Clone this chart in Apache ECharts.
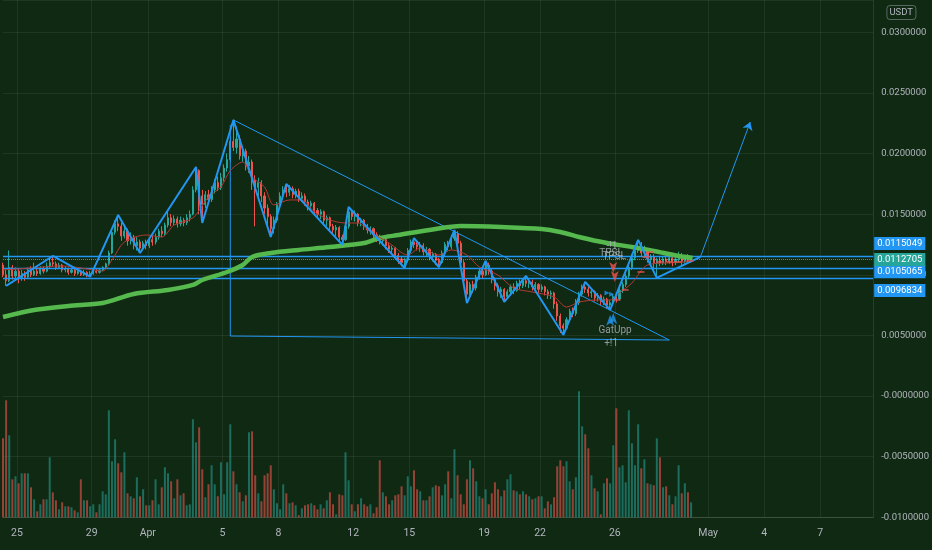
<!DOCTYPE html>
<html>
<head>
<meta charset="utf-8">
<title>DENTUSDT</title>
<script src="https://cdn.jsdelivr.net/npm/echarts/dist/echarts.min.js"></script>
<style>
html,body{margin:0;padding:0;background:#102913;}
#chart{width:932px;height:550px;}
</style>
</head>
<body>
<div id="chart"></div>
<script>
// ---- DATA (prices in units of 0.0001 USDT, time in days since Apr 1 00:00) ----
const tickDays   = [-7, -3, 0, 4, 7, 11, 14, 18, 21, 25, 30, 33, 36];
const tickLabels = ['25', '29', 'Apr', '5', '8', '12', '15', '19', '22', '26', 'May', '4', '7'];
const firstCandleDay = -7.75;      // Mar 24 06:00
const candleStep = 1 / 6;          // 4h candles

// [open, close, low, high]
const ohlc = [
[108,100,98,110],[100,95,90.8,104],[95,106,94,120],[106,99,96,108],[99,103,97,106],[103,97,93,105],[97,101,95,104],[101,98,95,103],[98,104,97,106],[104,100,98,107],
[100,103,99,110],[103,101,99,105],[101,105,100,107],[105,103,101,107],[103,107,102,110],[107,110,105,113],[110,109,107,115.5],[109,106,104,111],[106,108,105,110],[108,104,102,109],
[104,105,102,107],[105,102,100,106],[102,104,101,106],[104,101,99,105],[101,103,100,105],[103,100,99,104],[100,102,99,104],[102,99,98,103],[99,101,98.5,103],[101,103,100,104],
[103,102,101,105],[102,104,101,105],[104,106,103,107],[106,109,105,110],[109,118,108,120],[118,135,117,138],[135,142,133,145],[142,140,136,149.3],[140,132,128,143],[132,136,130,140],
[136,128,124,138],[128,131,125,135],[131,124,121,133],[124,127,120,131],[127,122,118,129],[122,126,120,128],[126,124,121,129],[124,129,122,131],[129,127,124,132],[127,131,125,134],
[131,136,129,138],[136,134,131,140],[134,141,132,143],[141,147,139,152],[147,143,140,150],[143,146,141,149],[146,142,139,148],[142,145,140,148],[145,143,140,147],[143,147,141,150],
[147,150,144,153],[150,170,149,173],[170,186,168,188.9],[186,165,150,187],[165,158,142.7,170],[158,166,155,169],[166,162,159,170],[162,170,160,173],[170,176,167,179],[176,172,169,181],
[172,180,170,184],[180,188,177,191],[188,195,185,200],[195,210,193,214],[210,205,202,227.7],[205,212,200,222],[212,198,195,215],[198,202,193,206],[202,190,186,204],[190,193,184,198],
[193,178,170,195],[178,172,140,182],[172,176,165,180],[176,165,160,178],[165,155,150,168],[155,148,140,158],[148,138,131.2,150],[138,145,134,148],[145,158,143,160],[158,165,154,168],
[165,170,162,173],[170,168,164,174.9],[168,171,165,174],[171,166,163,173],[166,169,163,171],[169,163,160,171],[163,165,160,168],[165,160,157,167],[160,157,153,162],[157,159,154,161],
[159,153,150,160],[153,150,147,155],[150,152,146,154],[152,145,141,153],[145,147,140,149],[147,140,136,148],[140,137,133,142],[137,139,132,141],[139,131,127,140],[131,129,124.6,133],
[129,140,128,142],[140,152,138,155.9],[152,148,145,154],[148,150,144,153],[150,143,140,151],[143,145,140,147],[145,140,137,146],[140,137,134,142],[137,138,133,140],[138,133,130,139],
[133,131,127,135],[131,128,125,133],[128,129,124,131],[129,124,121,130],[124,121,118,126],[121,122,117,124],[122,116,113,123],[116,113,109,118],[113,110,107,115],[110,112,105.6,114],
[112,120,110,122],[120,127,118,129],[127,125,122,130.3],[125,123,120,128],[123,124,119,127],[124,119,116,126],[119,121,115,123],[121,115,112,122],[115,117,111,119],[117,112,108,118],
[112,110,106.4,114],[110,118,109,120],[118,125,116,127],[125,123,120,128],[123,130,121,133],[130,134,128,136.9],[134,126,123,136],[126,110,105,128],[110,95,90,112],[95,84,76.7,97],
[84,92,80,94],[92,89,85,95],[89,98,87,100],[98,103,96,105],[103,100,97,106],[100,108,99,111.4],[108,103,100,110],[103,96,93,105],[96,91,87,98],[91,86,82,93],
[86,88,81,90],[88,82,77.6,89],[82,86,80,88],[86,90,84,92],[90,87,84,93],[87,93,86,95],[93,91,88,96],[91,95,89,97],[95,93,90,99],[93,94,89,96],
[94,90,87,96],[90,92,88,94],[92,88,85,93],[88,90,86,92],[90,86,83,91],[86,84,80,88],[84,85,80,87],[85,76,72,86],[76,66,62,78],[66,58,52,68],
[58,56,50.4,60],[56,63,55,65],[63,70,61,72],[70,68,65,73],[68,77,66,80],[77,84,75,86],[84,90,82,92],[90,88,85,94.1],[88,85,82,90],[85,86,81,88],
[86,81,78,87],[81,83,78,85],[83,78,75,84],[78,80,75,82],[80,75,72,81],[75,77,71,79],[77,82,75,84],[82,80,77,85],[80,87,79,90],[87,92,85,94],
[92,99,90,101],[99,106,97,110],[106,114,104,117],[114,120,112,124],[120,123,118,128.7],[123,118,115,127],[118,120,114,124],[120,113,110,122],[113,115,108,117],[115,110,104,117],
[110,112,97.4,114],[112,110,107,115],[110,113,108,115],[113,111,108,116],[111,114,109,117],[114,110,107,116],[110,113,108,115],[113,115,110,119],[115,111,108,118],[111,114,109,116],
[114,112,109,117],[112,112.7,110,115]
];

// volume per candle (arbitrary units)
const volume = [
79,117,82,38,41,34,44,44,44,30, 18,6,13,18,18,60,25,17,8,15, 11,11,10,7,5,38,17,17,11,13,
5,13,26,23,107,56,78,54,45,65, 24,21,19,40,21,28,12,12,17,38, 13,30,50,44,36,19,38,22,24,12,
13,98,75,90,48,20,33,52,33,21, 55,23,55,93,46,33,25,16,22,85, 86,42,24,16,42,44,52,28,14,8,
33,24,14,15,12,2,9,12,13,14, 12,8,13,9,17,25,13,3,23,22, 65,37,13,6,13,19,13,11,13,4,
10,57,25,21,13,17,22,23,31,22, 41,31,47,28,26,17,17,21,30,32, 31,22,33,46,19,68,42,23,13,38,
57,49,36,21,19,28,13,24,35,28, 21,27,38,43,27,26,23,26,23,21, 18,19,21,21,9,16,13,20,51,57,
51,56,36,28,40,126,91,83,69,42, 29,26,3,34,39,34,72,109,50,52, 35,107,74,52,93,49,58,34,33,32,
79,60,30,31,22,13,21,52,24,34, 25,15
];

// slow moving average (thick green), read at candle indices
const maSlowIdx = [0,10,21,32,42,53,61,64,72,77,80,86,95,105,116,121,127,137,147,160,173,179,185,194,202,209,217,221.5];
const maSlowVal = [65.2,71,74.3,76.7,84.2,87.5,91.6,95.7,102.3,108.1,114.7,118,120.5,122.9,126.2,130.3,132.8,137,140.2,139.4,137.8,135.3,131.2,126.2,122.9,119.6,115.5,113.9];

// fast moving average (thin red)
const maFastIdx = [0,9,19,29,32,35,39,46,51,55,61,66,70,73,77,80,84,87,92,96,100,105,110,114,118,124,130,134,140,144,149,153,159,164,170,177,181,185,191,195,198,202,207,213,220];
const maFastVal = [104,105.6,107.3,104,103.1,112.2,127,132.8,131.2,141.1,146.9,164.1,172.4,186,193,180.6,172.4,157.6,161.7,161.7,151.8,145.2,142.7,142.7,135.3,126.2,116.3,122.1,116.3,120.5,116.3,106.4,99.8,89.1,85.8,81.7,73.4,77.5,79.2,79.2,85,93.2,108.1,109.7,110.6];

// zigzag pivots
const zigIdx = [1,16,28,37,44,62,64,74,86,91,109,111,129,132,140,145,149,155,161,168,180,187,195,204,210,224];
const zigVal = [90.8,115.5,98.5,149.3,118,188.9,142.7,227.7,131.2,174.9,124.6,155.9,105.6,130.3,106.4,136.9,76.7,111.4,77.6,99,50.4,94.1,71,128.7,97.4,114.7];
const projIdx = [224, 240];
const projVal = [114.7, 226];

// triangle drawing
const triUpper = [[74, 227.7], [214, 46.2]];
const triLower = [[73, 49.5], [214, 46.2]];
const triVert  = [[73, 223.6], [73, 49.5]];

// horizontal price levels
const levelVals   = [115.049, 105.065, 96.834];
const levelShift  = [-13, 3, 12];
const lastPrice = 112.705;

// annotations
const annoIdx  = [195.6, 196.3, 195.3, 196.6, 195.3];
const annoVal  = [123.6, 114.7, 117.5, 53.7, 43];
const annoText = ['-!1', 'TPSL', 'TPSL', 'GatUpp', '+!1'];
const downArrIdx = [196, 196.5];
const downArrVal = [101.5, 94];
const upArrIdx = [195, 196];
const upArrVal = [67, 68.5];
const sigIdx = [194, 195.5];
const sigVal = [85, 84];
const tpslIdx = [197.2, 199.8, 204.9, 206.5, 207.8, 211, 214.2, 216.7, 220.6];
const tpslVal = [79.2, 87.5, 102.3, 114.7, 118.8, 110.6, 110.6, 110.6, 111.4];

// ---- BUILD ----
const dayOf = i => firstCandleDay + i * candleStep;
const fmtPrice = v => (v <= 0 ? '-' : '') + (Math.abs(v) / 10000).toFixed(7);
const FONT = 'Roboto, "Liberation Sans", sans-serif';
const TXT = '#b2b5be';
const UP = '#26a69a', DOWN = '#ef5350', BLUE = '#2196f3';

const candleData = ohlc.map((d, i) => [dayOf(i), d[0], d[1], d[2], d[3]]);
const volData = volume.map((v, i) => ({
  value: [dayOf(i), v],
  itemStyle: { color: ohlc[i][1] >= ohlc[i][0] ? 'rgba(38,166,154,0.55)' : 'rgba(239,83,80,0.6)' }
}));
const pairs = (idx, val) => idx.map((x, k) => [dayOf(x), val[k]]);
const seg = s => s.map(p => [dayOf(p[0]), p[1]]);

const levelLines = levelVals.map((v, k) => ({
  yAxis: v,
  lineStyle: { color: BLUE, width: 1.3, type: 'solid' },
  label: {
    show: true, position: 'end', distance: 1, formatter: fmtPrice(v),
    backgroundColor: BLUE, color: '#fff', padding: [2, 3, 1, 3],
    fontSize: 9.5, fontFamily: FONT, offset: [0, levelShift[k]]
  }
}));
levelLines.push({
  yAxis: lastPrice,
  lineStyle: { color: 'rgba(200,200,200,0.55)', width: 1, type: 'dotted' },
  label: {
    show: true, position: 'end', distance: 1, formatter: fmtPrice(lastPrice),
    backgroundColor: UP, color: '#fff', padding: [2, 3, 1, 3], fontSize: 9.5, fontFamily: FONT
  }
});
levelLines.push({
  yAxis: lastPrice,
  lineStyle: { opacity: 0 },
  label: {
    show: true, position: 'end', distance: 1, formatter: 'DENTUSDT',
    backgroundColor: UP, color: '#fff', padding: [2, 3, 1, 3], fontSize: 9, fontFamily: FONT,
    offset: [-47, 0]
  }
});

const chart = echarts.init(document.getElementById('chart'));
chart.setOption({
  backgroundColor: '#102913',
  animation: false,
  title: {
    text: 'USDT', right: 16, top: 5,
    padding: [3, 3, 2, 3], borderColor: 'rgba(178,181,190,0.45)', borderWidth: 1, borderRadius: 3,
    textStyle: { color: TXT, fontSize: 9.5, fontWeight: 'normal', fontFamily: FONT }
  },
  grid: { left: 0.69, right: 57.9, top: 0, bottom: 32.7 },
  xAxis: {
    type: 'value', min: -7.75, max: 38.83, interval: 0.25,
    axisLine: { show: true, onZero: false, lineStyle: { color: 'rgba(255,255,255,0.13)' } },
    axisTick: { show: false },
    splitLine: { show: false },
    axisLabel: {
      color: TXT, fontSize: 10.5, fontFamily: FONT, margin: 11,
      formatter: v => {
        const r = Math.round(v);
        const k = tickDays.indexOf(r);
        return (Math.abs(v - r) < 1e-6 && k >= 0) ? tickLabels[k] : '';
      }
    }
  },
  yAxis: [{
    type: 'value', position: 'right', min: -100, max: 326.6, interval: 50,
    axisLine: { show: true, onZero: false, lineStyle: { color: 'rgba(255,255,255,0.1)' } },
    axisTick: { show: false },
    splitLine: { lineStyle: { color: 'rgba(255,255,255,0.07)' } },
    axisLabel: { color: TXT, fontSize: 9.5, fontFamily: FONT, margin: 8, showMaxLabel: false, formatter: fmtPrice }
  }, {
    type: 'value', min: 0, max: 517.3, show: false
  }],
  series: [
    {
      type: 'bar', yAxisIndex: 1, barWidth: 2, data: volData, z: 1,
      markLine: {
        silent: true, symbol: ['none', 'none'], label: { show: false },
        lineStyle: { color: 'rgba(255,255,255,0.065)', width: 1, type: 'solid' },
        data: tickDays.map(d => ({ xAxis: d }))
      }
    },
    {
      type: 'candlestick', data: candleData, barWidth: 1.6, z: 3,
      encode: { x: 0, y: [1, 2, 3, 4] },
      itemStyle: { color: UP, color0: DOWN, borderColor: UP, borderColor0: DOWN, borderWidth: 1 },
      markLine: { silent: true, symbol: ['none', 'none'], data: levelLines }
    },
    { type: 'line', data: seg(triUpper), showSymbol: false, lineStyle: { color: BLUE, width: 1 }, z: 4 },
    { type: 'line', data: seg(triLower), showSymbol: false, lineStyle: { color: BLUE, width: 1 }, z: 4 },
    { type: 'line', data: seg(triVert), showSymbol: false, lineStyle: { color: BLUE, width: 1 }, z: 4 },
    {
      type: 'line', data: pairs(maSlowIdx, maSlowVal), showSymbol: false, smooth: 0.3,
      lineStyle: { color: '#55b94e', width: 4.5 }, z: 5
    },
    {
      type: 'line', data: pairs(maFastIdx, maFastVal), showSymbol: false, smooth: 0.3,
      lineStyle: { color: '#b23a33', width: 1 }, z: 5
    },
    {
      type: 'line', data: pairs(zigIdx, zigVal), showSymbol: false,
      lineStyle: { color: BLUE, width: 2 }, z: 6,
      markLine: {
        silent: true, symbol: ['none', 'arrow'], symbolSize: 8, label: { show: false },
        lineStyle: { color: BLUE, width: 1, type: 'solid' },
        data: [[{ coord: [dayOf(projIdx[0]), projVal[0]] }, { coord: [dayOf(projIdx[1]), projVal[1]] }]]
      }
    },
    {
      type: 'scatter', symbol: 'rect', symbolSize: [7, 1.6], z: 7,
      itemStyle: { color: DOWN }, data: pairs(tpslIdx, tpslVal)
    },
    {
      type: 'scatter', symbol: 'arrow', symbolSize: [6, 11], symbolRotate: 180, z: 7,
      itemStyle: { color: DOWN }, data: pairs(downArrIdx, downArrVal)
    },
    {
      type: 'scatter', symbol: 'arrow', symbolSize: [6, 11], z: 7,
      itemStyle: { color: BLUE }, data: pairs(upArrIdx, upArrVal)
    },
    {
      type: 'scatter', symbol: 'triangle', symbolSize: [5, 5], symbolRotate: -90, z: 7,
      itemStyle: { color: BLUE }, data: pairs(sigIdx, sigVal)
    },
    {
      type: 'scatter', symbolSize: 1, z: 8, itemStyle: { color: 'rgba(0,0,0,0)' },
      data: annoIdx.map((x, k) => ({
        value: [dayOf(x), annoVal[k]],
        label: { show: true, position: 'inside', formatter: annoText[k], color: TXT, fontSize: 10, fontFamily: FONT }
      }))
    }
  ]
});
</script>
</body>
</html>
